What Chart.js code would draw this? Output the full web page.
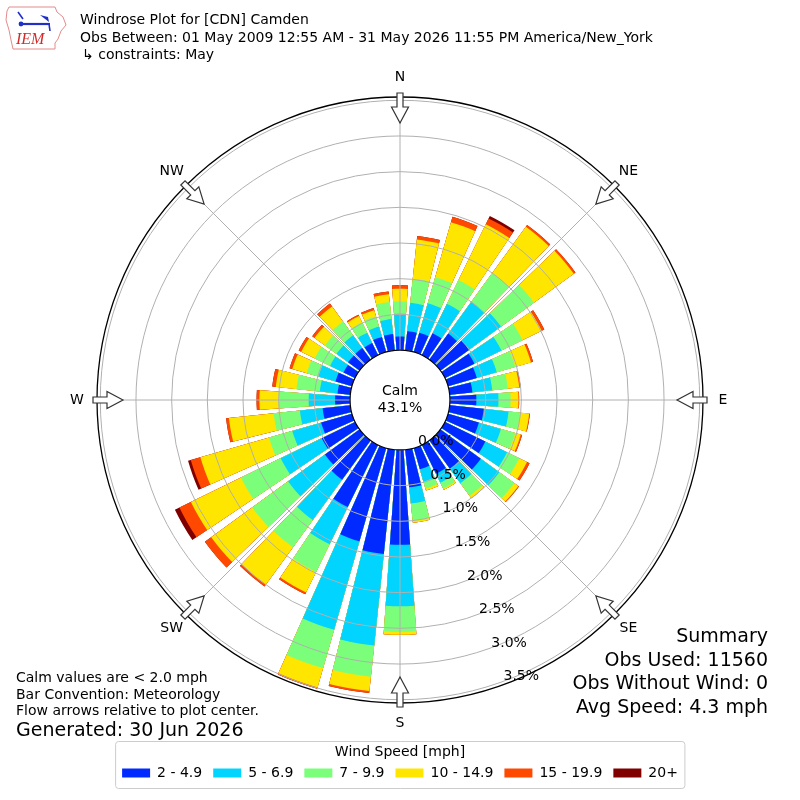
<!DOCTYPE html>
<html>
<head>
<meta charset="utf-8">
<script src="https://cdn.jsdelivr.net/npm/chart.js@4.4.1/dist/chart.umd.min.js"></script>
<style>
  html, body { margin: 0; padding: 0; background: #ffffff; }
  #wrap { width: 800px; height: 800px; }
</style>
</head>
<body>
<div id="wrap"><canvas id="rose" width="800" height="800"></canvas></div>
<script>
// ---------------- data (percent of all observations) ----------------
const DIRECTIONS = [0,10,20,30,40,50,60,70,80,90,100,110,120,130,140,150,160,170,
                    180,190,200,210,220,230,240,250,260,270,280,290,300,310,320,330,340,350];
const SPEED_BINS = ['2 - 4.9', '5 - 6.9', '7 - 9.9', '10 - 14.9', '15 - 19.9', '20+'];
const FREQ_2_5   = [0.19,0.27,0.28,0.34,0.45,0.50,0.46,0.42,0.32,0.37,0.48,0.45,0.63,0.70,0.49,0.45,0.31,0.53,
                    1.33,1.47,1.36,0.97,0.68,0.60,0.52,0.45,0.39,0.21,0.18,0.24,0.18,0.20,0.20,0.19,0.22,0.23];
const FREQ_5_7   = [0.32,0.40,0.43,0.46,0.55,0.55,0.42,0.29,0.28,0.31,0.35,0.32,0.34,0.32,0.25,0.14,0.18,0.23,
                    0.86,1.29,1.29,0.58,0.70,0.64,0.64,0.42,0.32,0.37,0.25,0.25,0.21,0.20,0.22,0.16,0.15,0.21];
const FREQ_7_10  = [0.17,0.34,0.38,0.37,0.50,0.57,0.33,0.27,0.22,0.17,0.16,0.21,0.19,0.26,0.22,0.09,0.10,0.24,
                    0.36,0.44,0.56,0.43,0.47,0.62,0.62,0.34,0.37,0.42,0.33,0.17,0.24,0.20,0.24,0.16,0.15,0.24];
const FREQ_10_15 = [0.18,0.55,0.80,0.87,0.80,0.69,0.30,0.23,0.16,0.11,0.13,0.08,0.12,0.07,0.04,0.02,0.03,0.03,
                    0.04,0.20,0.28,0.32,0.65,0.71,0.78,1.00,0.63,0.27,0.29,0.21,0.21,0.18,0.26,0.10,0.09,0.11];
const FREQ_15_20 = [0.05,0.05,0.08,0.09,0.03,0.03,0.04,0.03,0.02,0.01,0.01,0.02,0.04,0.01,0.00,0.00,0.00,0.00,
                    0.00,0.03,0.02,0.03,0.03,0.11,0.18,0.14,0.04,0.04,0.05,0.04,0.04,0.04,0.05,0.02,0.03,0.04];
const FREQ_20P   = [0.00,0.00,0.00,0.04,0.00,0.00,0.00,0.00,0.00,0.00,0.00,0.00,0.00,0.00,0.00,0.00,0.00,0.00,
                    0.00,0.00,0.00,0.00,0.00,0.00,0.07,0.04,0.00,0.00,0.00,0.00,0.00,0.00,0.00,0.00,0.00,0.00];
const COMPASS    = ['N', 'NE', 'E', 'SE', 'S', 'SW', 'W', 'NW'];
const RING_TICKS = [0, 0.5, 1.0, 1.5, 2.0, 2.5, 3.0, 3.5];
const CALM_PCT   = 43.1;
const TITLE_LINES = ['Windrose Plot for [CDN] Camden',
                     'Obs Between: 01 May 2009 12:55 AM - 31 May 2026 11:55 PM America/New_York',
                     '\u21b3 constraints: May'];
const NOTE_LINES = ['Calm values are < 2.0 mph', 'Bar Convention: Meteorology', 'Flow arrows relative to plot center.'];
const GENERATED  = 'Generated: 30 Jun 2026';
const SUMMARY_LINES = ['Summary', 'Obs Used: 11560', 'Obs Without Wind: 0', 'Avg Speed: 4.3 mph'];

// ---------------- style ----------------
const BIN_COLORS = ['#002aff', '#00d4ff', '#7bff7b', '#ffe600', '#ff4800', '#800000'];
const FONT = '"DejaVu Sans"';
const HOLE = 0.70;          // calm-circle size in scale units
const RMAX = 3.546;         // outer edge of the rose
const ROSE_RADIUS = 303;    // px
const BAR_FRACTION = 0.8;   // bar opening
const LABEL_BEARING = 160;  // degrees, ring labels
const GRID_GREY = '#b0b0b0';

// ---------------- build stacked rings ----------------
const SPEED_FREQS = [FREQ_2_5, FREQ_5_7, FREQ_7_10, FREQ_10_15, FREQ_15_20, FREQ_20P];
const cumulative = [];
let running = DIRECTIONS.map(() => 0);
SPEED_FREQS.forEach(arr => {
  running = running.map((v, i) => +(v + arr[i]).toFixed(4));
  cumulative.push(running);
});

const STEP = 360 / DIRECTIONS.length;
const BAR_DEG = STEP * BAR_FRACTION;
const GAP_DEG = STEP - BAR_DEG;

function ring(values) {
  const data = [], angles = [], isBar = [];
  data.push(values[0]); angles.push(BAR_DEG / 2); isBar.push(true);
  for (let i = 1; i < values.length; i++) {
    data.push(0); angles.push(GAP_DEG); isBar.push(false);
    data.push(values[i]); angles.push(BAR_DEG); isBar.push(true);
  }
  data.push(0); angles.push(GAP_DEG); isBar.push(false);
  data.push(values[0]); angles.push(BAR_DEG / 2); isBar.push(true);
  return { data, angles, isBar };
}

const datasets = cumulative.map((vals, k) => {
  const r = ring(vals);
  return {
    label: SPEED_BINS[k],
    data: r.data,
    angle: r.angles,
    backgroundColor: r.isBar.map(b => b ? BIN_COLORS[k] : 'rgba(0,0,0,0)'),
    borderWidth: 0
  };
});

// ---------------- decorations ----------------
function drawLogo(ctx) {
  ctx.save();
  ctx.beginPath();
  ctx.moveTo(9, 7); ctx.lineTo(55, 7); ctx.lineTo(57, 12); ctx.lineTo(63, 17);
  ctx.lineTo(66, 25); ctx.lineTo(61, 31); ctx.lineTo(58, 39); ctx.lineTo(55, 43);
  ctx.lineTo(55, 49); ctx.lineTo(13, 49); ctx.lineTo(11, 40); ctx.lineTo(9, 30);
  ctx.lineTo(6, 20); ctx.lineTo(7, 11); ctx.closePath();
  ctx.strokeStyle = '#e58a8a'; ctx.lineWidth = 1; ctx.stroke();
  ctx.strokeStyle = '#1f2fc8'; ctx.fillStyle = '#1f2fc8'; ctx.lineWidth = 2.2;
  ctx.beginPath(); ctx.moveTo(21, 24); ctx.lineTo(50, 24); ctx.stroke();
  ctx.beginPath(); ctx.arc(21, 24, 2.4, 0, Math.PI * 2); ctx.fill();
  ctx.lineWidth = 1.6;
  ctx.beginPath(); ctx.moveTo(18, 12); ctx.lineTo(23, 19); ctx.stroke();
  ctx.beginPath(); ctx.moveTo(40, 15); ctx.lineTo(48, 17); ctx.lineTo(49, 22); ctx.closePath(); ctx.fill();
  ctx.beginPath(); ctx.moveTo(49, 24); ctx.lineTo(50, 31); ctx.stroke();
  ctx.font = 'italic 16px "Liberation Serif", "DejaVu Serif", serif';
  ctx.fillStyle = '#d42a2a'; ctx.textAlign = 'left'; ctx.textBaseline = 'alphabetic';
  ctx.fillText('IEM', 16, 44);
  ctx.restore();
}

const decorPlugin = {
  id: 'decor',
  afterDraw(chart) {
    const ctx = chart.ctx;
    const s = chart.scales.r;
    const cx = s.xCenter, cy = s.yCenter;
    const rOf = v => s.getDistanceFromCenterForValue(v);
    ctx.save();

    // calm circle
    const r0 = rOf(0);
    ctx.beginPath(); ctx.arc(cx, cy, r0, 0, Math.PI * 2);
    ctx.fillStyle = '#ffffff'; ctx.fill();
    ctx.lineWidth = 1.2; ctx.strokeStyle = '#000000'; ctx.stroke();
    ctx.fillStyle = '#000000'; ctx.font = '14px ' + FONT;
    ctx.textAlign = 'center'; ctx.textBaseline = 'alphabetic';
    ctx.fillText('Calm', cx, cy - 5);
    ctx.fillText(CALM_PCT.toFixed(1) + '%', cx, cy + 12);

    // ring labels
    const lb = LABEL_BEARING * Math.PI / 180;
    ctx.textAlign = 'left';
    RING_TICKS.forEach(t => {
      const r = rOf(t);
      ctx.fillText(t.toFixed(1) + '%', cx + r * Math.sin(lb) + 1, cy - r * Math.cos(lb) - 1.5);
    });

    // compass arrows and labels
    const outer = s.drawingArea;
    COMPASS.forEach((name, i) => {
      const a = s.getIndexAngle(i) - Math.PI / 2;
      const ca = Math.cos(a), sa = Math.sin(a);
      const P = (px, py) => [cx + px * ca - py * sa, cy + px * sa + py * ca];
      const rt = outer - 26, rh = rt + 16, re = rt + 30;
      const pts = [P(rt, 0), P(rh, 8.5), P(rh, 3), P(re, 3), P(re, -3), P(rh, -3), P(rh, -8.5)];
      ctx.beginPath();
      pts.forEach((p, j) => j ? ctx.lineTo(p[0], p[1]) : ctx.moveTo(p[0], p[1]));
      ctx.closePath();
      ctx.fillStyle = '#ffffff'; ctx.fill();
      ctx.lineWidth = 1.2; ctx.strokeStyle = '#333333'; ctx.lineJoin = 'miter'; ctx.stroke();
      const lp = P(outer + 20, 0);
      ctx.fillStyle = '#000000'; ctx.font = '14px ' + FONT;
      ctx.textAlign = 'center'; ctx.textBaseline = 'middle';
      ctx.fillText(name, lp[0], lp[1]);
    });

    // header
    drawLogo(ctx);
    ctx.fillStyle = '#000000'; ctx.font = '14px ' + FONT;
    ctx.textAlign = 'left'; ctx.textBaseline = 'alphabetic';
    ctx.fillText(TITLE_LINES[0], 80, 24);
    ctx.fillText(TITLE_LINES[1], 80, 42);
    ctx.fillText(TITLE_LINES[2], 82, 59);

    // notes bottom-left
    NOTE_LINES.forEach((t, i) => ctx.fillText(t, 16, 682 + i * 16.5));
    ctx.font = '19px ' + FONT;
    ctx.fillText(GENERATED, 16, 736);

    // summary bottom-right
    ctx.textAlign = 'right';
    SUMMARY_LINES.forEach((t, i) => ctx.fillText(t, 768, 642 + i * 23.7));

    // legend frame
    const lg = chart.legend;
    if (lg && lg.legendHitBoxes && lg.legendHitBoxes.length) {
      const hb = lg.legendHitBoxes;
      const left = Math.min(...hb.map(h => h.left)) - 6.5;
      const right = Math.max(...hb.map(h => h.left + h.width)) + 7;
      const top = lg.top + 0.5, bottom = lg.top + 47.5;
      ctx.beginPath();
      if (ctx.roundRect) ctx.roundRect(left, top, right - left, bottom - top, 3);
      else ctx.rect(left, top, right - left, bottom - top);
      ctx.lineWidth = 1; ctx.strokeStyle = '#cccccc'; ctx.stroke();
    }
    ctx.restore();
  }
};

Chart.defaults.font.family = FONT;
Chart.defaults.color = '#000000';

new Chart(document.getElementById('rose'), {
  type: 'polarArea',
  data: { labels: COMPASS, datasets },
  options: {
    responsive: false,
    animation: false,
    events: [],
    layout: { padding: { top: 0, left: 0, right: 0, bottom: 10 } },
    scales: {
      r: {
        type: 'radialLinear',
        min: -HOLE,
        max: RMAX,
        startAngle: 0,
        ticks: { display: false },
        pointLabels: { display: false },
        afterBuildTicks: (scale) => {
          scale.ticks = RING_TICKS.map(v => ({ value: v })).concat([{ value: RMAX }]);
        },
        afterFit: (scale) => {
          scale.xCenter = scale.chart.width / 2;
          scale.yCenter = scale.chart.height / 2;
          scale.drawingArea = ROSE_RADIUS;
        },
        grid: {
          z: 1,
          circular: true,
          color: (c) => (c.tick && c.tick.value === RMAX) ? '#000000' : GRID_GREY,
          lineWidth: (c) => (c.tick && c.tick.value === RMAX) ? 1.3 : 1
        },
        angleLines: { display: true, color: GRID_GREY, lineWidth: 1 }
      }
    },
    plugins: {
      tooltip: { enabled: false },
      legend: {
        display: true,
        position: 'bottom',
        title: {
          display: true,
          text: 'Wind Speed [mph]',
          font: { size: 14, family: FONT },
          color: '#000000',
          padding: { top: 4, bottom: -6.8 }
        },
        labels: {
          font: { size: 14, family: FONT },
          color: '#000000',
          boxWidth: 28,
          boxHeight: 9,
          padding: 11,
          generateLabels: () => SPEED_BINS.map((t, i) => ({
            text: t, fillStyle: BIN_COLORS[i], strokeStyle: BIN_COLORS[i],
            lineWidth: 0, hidden: false, index: i
          }))
        }
      }
    }
  },
  plugins: [decorPlugin]
});
</script>
</body>
</html>
